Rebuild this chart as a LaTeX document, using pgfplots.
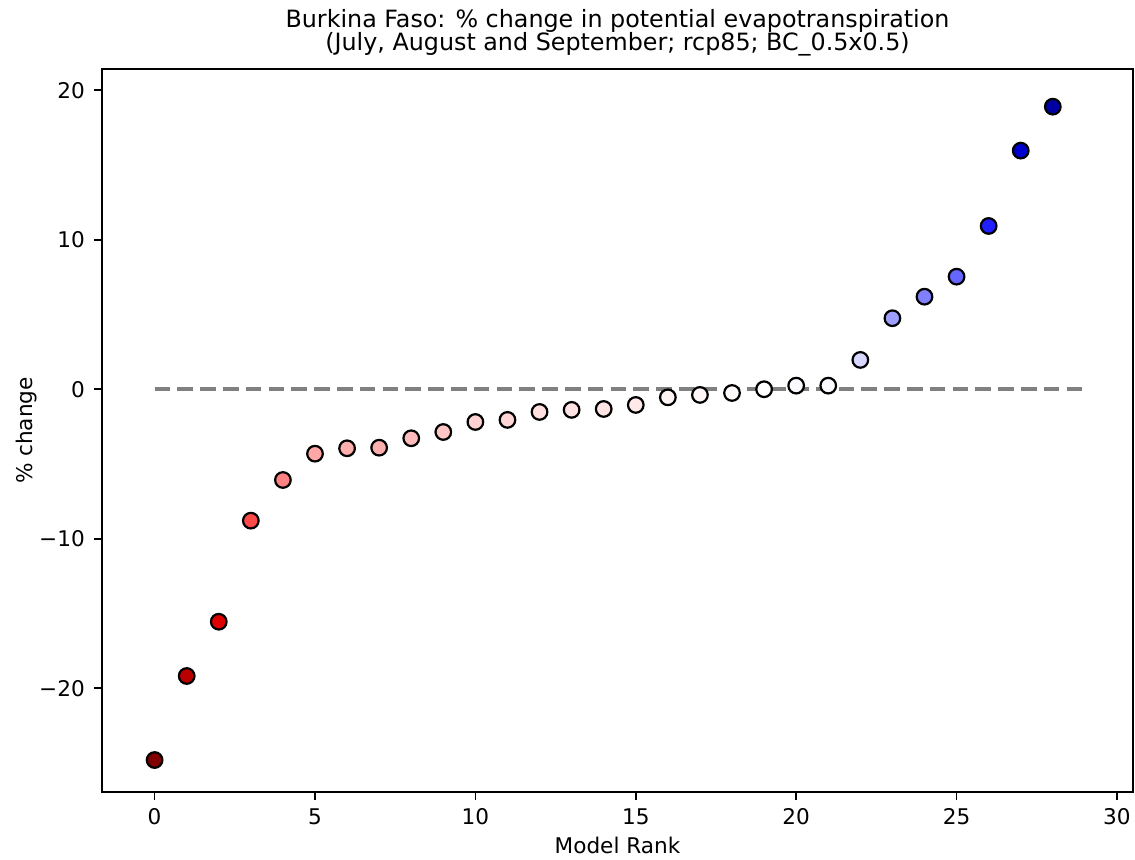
\documentclass[border=0pt]{standalone}
\usepackage{pgfplots}
\pgfplotsset{compat=1.18}
\usepackage{fontspec}
\setmainfont{DejaVu Sans}
\begin{document}
\fontsize{10.8}{13}\selectfont
\begin{tikzpicture}
\path[use as bounding box] (-51pt,-33.5pt) rectangle (516.5pt,396pt);
\begin{axis}[
  at={(0pt,0pt)}, anchor=south west,
  scale only axis, width=515.5pt, height=361.5pt,
  xmin=-1.64, xmax=30.5, ymin=-26.94, ymax=21.42,
  axis line style={line width=0.85pt},
  tick align=outside, xtick pos=bottom, ytick pos=left,
  major tick length=3.8pt,
  every tick/.style={black, line width=0.85pt},
  xtick={0,5,10,15,20,25,30},
  xticklabels={0,5,10,15,20,25,30},
  ytick={-20,-10,0,10,20},
  yticklabels={−20,−10,0,10,20},
  ticklabel style={font=\fontsize{10.8}{13}\selectfont},
  xticklabel style={anchor=base, inner sep=0pt, yshift=-12.2pt},
  yticklabel style={anchor=east, inner sep=0pt, xshift=-4.6pt},
  colormap={seismicr}{rgb=(0.5,0,0) rgb=(1,0,0) rgb=(1,1,1) rgb=(0,0,1) rgb=(0,0,0.3)},
  point meta min=-24.8, point meta max=24.8,
  clip=false,
]
\addplot[gray, line width=2.1pt, dash pattern=on 7.8pt off 3.6pt] coordinates {(0,0) (29,0)};
\addplot[scatter, only marks, mark=*, mark size=3.9pt, point meta=y,
  mark options={line width=1.1pt},
  scatter/use mapped color={draw=black, fill=mapped color}]
coordinates {
(0,-24.8) (1,-19.18) (2,-15.55) (3,-8.79) (4,-6.07) (5,-4.31) (6,-3.95) (7,-3.91)
(8,-3.28) (9,-2.86) (10,-2.19) (11,-2.05) (12,-1.52) (13,-1.38) (14,-1.32) (15,-1.05)
(16,-0.54) (17,-0.38) (18,-0.25) (19,0.0) (20,0.24) (21,0.24) (22,1.96) (23,4.75)
(24,6.19) (25,7.53) (26,10.92) (27,15.96) (28,18.9)
};
\end{axis}
\node[anchor=base, inner sep=0pt, font=\fontsize{11.9}{14.3}\selectfont] at (257.75pt,382.5pt) {Burkina Faso: \% change in potential evapotranspiration};
\node[anchor=base, inner sep=0pt, font=\fontsize{11.9}{14.3}\selectfont] at (257.75pt,371pt) {(July, August and September; rcp85; BC\_0.5x0.5)};
\node[anchor=base, inner sep=0pt] at (257.75pt,-30.5pt) {Model Rank};
\node[rotate=90, anchor=base, inner sep=0pt] at (-34.5pt,180.75pt) {\% change};
\end{tikzpicture}
\end{document}
